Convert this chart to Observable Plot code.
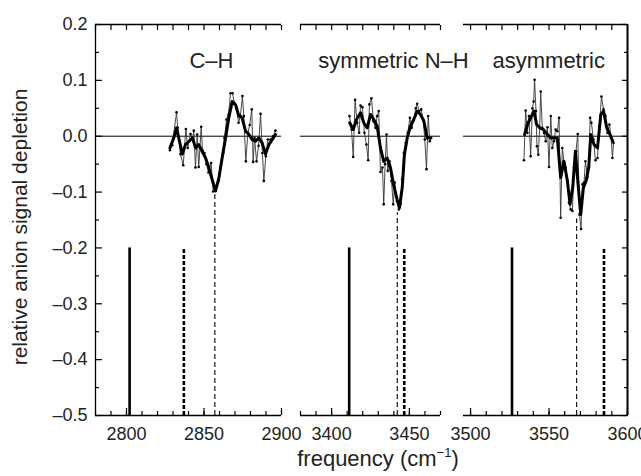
<!DOCTYPE html>
<html><head><meta charset="utf-8">
<script src="https://cdn.jsdelivr.net/npm/d3@7"></script>
<script src="https://cdn.jsdelivr.net/npm/@observablehq/plot@0.6"></script>
<style>
body{margin:0;background:#fff;}
#chart{position:relative;width:641px;height:476px;overflow:hidden;font-family:"Liberation Sans",Arial,sans-serif;color:#000;}
#chart svg{position:absolute;left:0;top:0;}
#xlabel{position:absolute;left:378px;top:448px;transform:translateX(-50%);font-size:22px;line-height:22px;white-space:nowrap;color:#222;}
#xlabel sup{font-size:13px;line-height:0;vertical-align:9px;}
#ylabel{position:absolute;left:20px;top:227px;transform:translate(-50%,-50%) rotate(-90deg);font-size:21px;line-height:22px;white-space:nowrap;color:#222;}
</style></head><body><div id="chart"><div id="xlabel">frequency (cm<sup>&minus;1</sup>)</div><div id="ylabel">relative anion signal depletion</div></div>
<script>
// ---------- data ----------
const yTicksMajor = [-0.5, -0.4, -0.3, -0.2, -0.1, 0, 0.1, 0.2];
const yTicksMinor = [-0.45, -0.35, -0.25, -0.15, -0.05, 0.05, 0.15];
const stickTop = -0.2;

// C–H panel
const chLabel = ["C–H"];
const chTicks = [2800, 2850, 2900];
const chRawX = [2828,2829.5,2832.3,2833,2834.8,2836.6,2838.3,2839.5,2841.3,2842.6,2843.4,2844.5,2845.6,2846.6,2848.2,2849,2850.3,2851.6,2852.9,2854.6,2855.9,2857.6,2859.4,2860.6,2862.4,2863.2,2864.5,2865.8,2867.1,2868.4,2869.7,2871,2872.3,2873.5,2874.8,2875.7,2877,2878.3,2879.5,2880.8,2881.7,2882.6,2883.9,2885.2,2886.5,2887.7,2888.6,2889.9,2891.2,2893,2894.6,2896.1];
const chRawY = [-0.025,-0.016,0.043,0.015,-0.032,-0.052,0.013,-0.021,0.004,-0.005,0.010,-0.056,0.003,-0.055,0.017,-0.025,-0.030,-0.050,-0.065,-0.048,-0.099,-0.098,-0.080,-0.055,-0.030,-0.003,0.030,0.039,0.077,0.077,0.059,0.050,0.024,0.037,0.072,0.036,-0.045,0.006,0.020,0.048,-0.046,-0.003,-0.045,-0.017,0.040,-0.030,-0.080,-0.036,-0.006,-0.006,0,0.010];
const chSmX = [2828,2830.5,2832.3,2834.2,2836,2838,2840.4,2842.6,2844.5,2846.6,2848.8,2851,2853.1,2855.2,2857.4,2859.6,2861.7,2863.9,2866,2868.2,2870.4,2872.5,2874.6,2876.8,2879,2881.1,2883.2,2885.4,2887.5,2889.7,2891.9,2894,2896.1];
const chSmY = [-0.021,-0.003,0.015,-0.009,-0.032,-0.015,-0.009,-0.003,-0.021,-0.015,-0.027,-0.039,-0.056,-0.077,-0.098,-0.075,-0.039,-0.003,0.033,0.062,0.056,0.036,0.033,0.009,0.003,-0.006,-0.009,-0.003,-0.012,-0.032,-0.015,-0.006,0.003];
const chSolid = [2802];
const chThick = [2837];
const chThin = [2857];
const chThinTop = -0.105;

// symmetric N–H panel
const nhsLabel = ["symmetric N–H"];
const nhsTicks = [3400, 3450];
const nhsRawX = [3411.5,3412.8,3413.9,3415.1,3416.4,3417.7,3418.6,3419.8,3421.1,3422.4,3423.5,3424.3,3425.6,3426.9,3428.2,3429.3,3430.3,3431.4,3432.7,3433.5,3434.4,3435.3,3436.1,3437.2,3438.5,3439.6,3440.6,3441.9,3443.2,3444.3,3445.4,3446.4,3447.7,3449,3450.3,3451.5,3452.8,3454.1,3455,3456.3,3457.6,3458.9,3459.9,3461,3462.1,3463.1,3464];
const nhsRawY = [0.036,0.012,-0.037,0.065,0.024,0.006,0.055,0.052,0.006,-0.015,-0.043,0.057,0.068,0.027,0.015,0.036,0.045,-0.064,-0.056,-0.122,-0.050,0.003,-0.062,-0.045,-0.080,-0.122,-0.083,-0.116,-0.131,-0.122,-0.077,-0.030,-0.012,0.006,0.033,0.015,0.028,0.050,0.058,0.045,0.048,0.030,-0.006,-0.059,0.036,-0.009,-0.003];
const nhsSmX = [3411.6,3413.9,3416,3418.6,3420.7,3422.9,3425,3427.1,3429.3,3431.4,3433.5,3435.7,3437.8,3440,3442.1,3443.6,3445.4,3446.8,3448.6,3450.7,3452.8,3455,3457.1,3459.3,3461.4,3463.5];
const nhsSmY = [0.024,0.012,0.030,0.042,0.024,0.015,0.039,0.030,0.018,-0.021,-0.045,-0.039,-0.056,-0.089,-0.113,-0.128,-0.092,-0.033,-0.003,0.018,0.030,0.045,0.039,0.027,-0.003,-0.003];
const nhsSolid = [3411.3];
const nhsThick = [3446.7];
const nhsThin = [3442.2];
const nhsThinTop = -0.137;

// asymmetric N–H panel
const nhaLabel = ["asymmetric"];
const nhaTicks = [3500, 3550, 3600];
const nhaRawX = [3534,3535.1,3536.2,3537.2,3538.3,3539.4,3540.2,3540.8,3541.7,3542.3,3543.2,3544,3544.7,3545.7,3546.8,3547.9,3549,3550,3551.1,3552.1,3553.2,3554.2,3555.3,3556.4,3557.4,3558.5,3559.5,3560.6,3561.7,3562.7,3563.8,3564.9,3565.9,3567.2,3568.3,3569.4,3570.4,3571.3,3572.3,3573.2,3574.5,3575.3,3576.2,3577,3578.3,3579.6,3580.9,3582.1,3583.4,3584.7,3586,3587.2,3588.5,3589.6,3590.4,3591.1];
const nhaRawY = [-0.043,0.046,0.006,0.036,-0.036,0.050,0.062,0.101,0.045,-0.018,-0.033,0.015,0.080,0.015,0.006,-0.009,0.016,-0.055,0.036,-0.021,-0.009,0.012,0.009,0.033,-0.146,-0.021,-0.045,-0.056,-0.080,-0.119,-0.131,-0.134,-0.055,-0.027,0.004,-0.140,-0.166,-0.086,-0.083,-0.045,-0.074,-0.056,0.033,0.024,-0.006,-0.043,-0.039,0.018,0.071,0.048,0.036,0.006,0.021,-0.003,-0.039,-0.012];
const nhaSmX = [3534.4,3536.2,3538.3,3540.4,3542.1,3544.2,3546.4,3549,3551.1,3553.2,3555.3,3557.4,3559.5,3561.7,3563.4,3565.1,3566.8,3568.5,3570.2,3571.9,3573.6,3575.3,3576.6,3578.7,3580.9,3583,3584.7,3586.8,3588.9,3590.6];
const nhaSmY = [0.003,0.021,0.033,0.045,0.021,0.015,0.012,0.003,-0.003,-0.003,-0.003,-0.074,-0.045,-0.080,-0.122,-0.092,-0.027,-0.086,-0.140,-0.092,-0.080,-0.056,0.003,-0.015,-0.021,0.039,0.045,0.015,0.003,-0.009];
const nhaSolid = [3526.4];
const nhaThick = [3585];
const nhaThin = [3567.6];
const nhaThinTop = -0.148;

// ---------- drawing ----------
const W = 641, H = 476;
const fmtY = d => (d < 0 ? "\u2013" : "") + Math.abs(d).toFixed(1);
const FONT = "'Liberation Sans', Arial, Helvetica, sans-serif";

function panel(p) {
  const minor = d3.range(Math.ceil(p.domain[0] / 10) * 10, p.domain[1] + 0.1, 10);
  const marks = [
    Plot.ruleY([0], {stroke: "#000", strokeWidth: 1}),
    Plot.ruleY([-0.5, 0.2], {stroke: "#000", strokeWidth: 1.3}),
    // inward ticks: positive size shifted back inside the frame
    Plot.axisX({anchor: "bottom", ticks: minor, tickSize: 4, dy: -4, fill: "none", strokeWidth: 1.2}),
    Plot.axisX({anchor: "bottom", ticks: p.ticks, tickSize: 7, dy: -7, fill: "none", strokeWidth: 1.2}),
    Plot.axisX({anchor: "top", ticks: minor, tickSize: 5, dy: 5, fill: "none", strokeWidth: 1.2}),
    Plot.axisX({anchor: "bottom", ticks: p.ticks, tickSize: 0, tickPadding: 12, fontSize: 18, label: null, tickFormat: d => String(d), fill: "#222"}),
    // sticks
    Plot.ruleX(p.solid, {y1: -0.5, y2: stickTop, stroke: "#000", strokeWidth: 2.6}),
    Plot.ruleX(p.thick, {y1: -0.5, y2: stickTop, stroke: "#000", strokeWidth: 2.6, strokeDasharray: "4,2"}),
    Plot.ruleX(p.thin, {y1: -0.5, y2: p.thinTop, stroke: "#000", strokeWidth: 1.1, strokeDasharray: "5,3"}),
    // data
    Plot.line(p.rawX, {x: p.rawX, y: p.rawY, stroke: "#333", strokeWidth: 0.9}),
    Plot.dot(p.rawX, {x: p.rawX, y: p.rawY, r: 1.3, fill: "#000"}),
    Plot.line(p.smX, {x: p.smX, y: p.smY, stroke: "#000", strokeWidth: 3, strokeLinejoin: "round"}),
    Plot.text(p.label, {x: p.labelX, y: 0.134, fontSize: 22, fill: "#222"})
  ];
  if (p.left) {
    marks.push(
      Plot.ruleX([p.domain[0]], {stroke: "#000", strokeWidth: 1.3}),
      Plot.axisY({anchor: "left", ticks: yTicksMinor, tickSize: 4, dx: 4, fill: "none", strokeWidth: 1.2}),
      Plot.axisY({anchor: "left", ticks: yTicksMajor, tickSize: 7, dx: 7, fill: "none", strokeWidth: 1.2}),
      Plot.axisY({anchor: "left", ticks: yTicksMajor, tickSize: 0, tickPadding: 8, fontSize: 18, label: null, tickFormat: fmtY, fill: "#222"})
    );
  }
  if (p.right) {
    marks.push(
      Plot.ruleX([p.domain[1]], {stroke: "#000", strokeWidth: 2}),
      Plot.axisY({anchor: "right", ticks: yTicksMinor, tickSize: 4, dx: -4, fill: "none", strokeWidth: 1.2}),
      Plot.axisY({anchor: "right", ticks: yTicksMajor, tickSize: 6, dx: -6, fill: "none", strokeWidth: 1.2})
    );
  }
  return Plot.plot({
    width: W, height: H,
    marginLeft: p.l, marginRight: W - p.r, marginTop: 24, marginBottom: H - 415,
    x: {domain: p.domain},
    y: {domain: [-0.5, 0.2], axis: (p.left || p.right) ? undefined : null},
    style: {background: "transparent", fontFamily: FONT, overflow: "visible", color: "#000"},
    marks
  });
}

const chart = document.getElementById("chart");
[
  {domain: [2780, 2900], l: 95, r: 281, ticks: chTicks, rawX: chRawX, rawY: chRawY, smX: chSmX, smY: chSmY,
   solid: chSolid, thick: chThick, thin: chThin, thinTop: chThinTop, label: chLabel, labelX: 2854.8, left: true},
  {domain: [3380, 3470], l: 300, r: 440, ticks: nhsTicks, rawX: nhsRawX, rawY: nhsRawY, smX: nhsSmX, smY: nhsSmY,
   solid: nhsSolid, thick: nhsThick, thin: nhsThin, thinTop: nhsThinTop, label: nhsLabel, labelX: 3439.8},
  {domain: [3495.5, 3600], l: 463, r: 627, ticks: nhaTicks, rawX: nhaRawX, rawY: nhaRawY, smX: nhaSmX, smY: nhaSmY,
   solid: nhaSolid, thick: nhaThick, thin: nhaThin, thinTop: nhaThinTop, label: nhaLabel, labelX: 3549.8, right: true}
].forEach(p => chart.appendChild(panel(p)));
</script></body></html>
